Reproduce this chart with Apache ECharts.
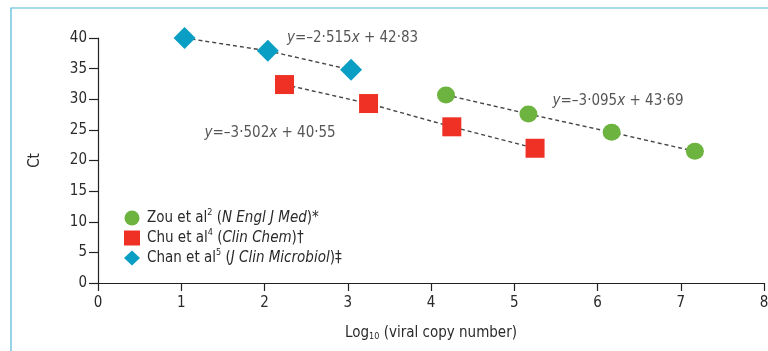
<!DOCTYPE html>
<html><head><meta charset="utf-8">
<script src="https://cdn.jsdelivr.net/npm/echarts@6/dist/echarts.min.js"></script>
<style>html,body{margin:0;padding:0;background:#fff}#c{width:768px;height:351px}</style>
</head><body><div id="c"></div>
<script>
// ---- data ----
var zouX = [4.18, 5.17, 6.17, 7.17];
var zouY = [30.7, 27.6, 24.6, 21.5];
var chuX = [2.24, 3.25, 4.25, 5.25];
var chuY = [32.4, 29.3, 25.5, 22.0];
var chanX = [1.04, 2.04, 3.04];
var chanY = [40.0, 37.9, 34.8];
var seriesNames = ['Zou', 'Chu', 'Chan'];
var legendLabels = [
  'Zou et al{sup|2} ({i|N Engl J Med})*',
  'Chu et al{sup|4} ({i|Clin Chem})†',
  'Chan et al{sup|5} ({i|J Clin Microbiol})‡'
];
var equations = [
  {x: 2.27, y: 40.0, t: '{i|y}=–2·515{i|x} + 42·83'},
  {x: 1.28, y: 24.4, t: '{i|y}=–3·502{i|x} + 40·55'},
  {x: 5.46, y: 29.7, t: '{i|y}=–3·095{i|x} + 43·69'}
];
var xTicks = [0,1,2,3,4,5,6,7,8];
var yTicks = [0,5,10,15,20,25,30,35,40];

function pairs(xs, ys){ return xs.map(function(x,i){return [x, ys[i]];}); }

var FONT = '"DejaVu Sans Condensed","Liberation Sans Narrow","Open Sans",sans-serif';
var TXT = '#2a2a2a';
var colors = {Zou:'#6cb33f', Chu:'#ee3124', Chan:'#0a9ec4'};

var chart = echarts.init(document.getElementById('c'));
var lineStyle = {color:'#444', width:1.4, type:[4,3]};
var richEq = {i:{fontStyle:'italic', fontSize:15, fontFamily:FONT, color:TXT}};

chart.setOption({
  animation:false,
  textStyle:{fontFamily:FONT, color:TXT},
  graphic:[{type:'rect', shape:{x:11, y:8, width:800, height:400}, style:{fill:'none', stroke:'#4fb6d8', lineWidth:1.2}, silent:true}],
  grid:{left:98, right:4, top:38, bottom:68, containLabel:false, outerBoundsMode:'none'},
  xAxis:{type:'value', min:0, max:8, interval:1,
    name:'Log{sub|10} (viral copy number)', nameLocation:'middle', nameGap:43,
    nameTextStyle:{fontSize:15, color:TXT, fontFamily:FONT, rich:{sub:{fontSize:9, verticalAlign:'bottom', padding:[6,0,0,0], fontFamily:FONT, color:TXT}}},
    axisLine:{lineStyle:{color:'#222', width:1.2}},
    axisTick:{length:8, lineStyle:{color:'#222', width:1.2}},
    axisLabel:{fontSize:15, color:TXT, margin:13, fontFamily:FONT, formatter:function(v){return xTicks.indexOf(v)>=0?String(v):'';}},
    splitLine:{show:false}},
  yAxis:{type:'value', min:0, max:40, interval:5,
    name:'Ct', nameLocation:'middle', nameGap:55, nameRotate:90,
    nameTextStyle:{fontSize:15, color:TXT, fontFamily:FONT},
    axisLine:{show:true, lineStyle:{color:'#222', width:1.2}},
    axisTick:{show:true, length:9, lineStyle:{color:'#222', width:1.2}},
    axisLabel:{fontSize:15, color:TXT, margin:11, fontFamily:FONT, formatter:function(v){return yTicks.indexOf(v)>=0?String(v):'';}},
    splitLine:{show:false}},
  legend:{orient:'vertical', left:119, top:203, itemWidth:16, itemHeight:15, itemGap:0,
    data:[{name:'Zou', icon:'circle'},{name:'Chu', icon:'rect', itemStyle:{}},{name:'Chan', icon:'diamond'}],
    formatter:function(n){return legendLabels[seriesNames.indexOf(n)];},
    textStyle:{fontSize:15, color:TXT, fontFamily:FONT, lineHeight:20, padding:[0,0,0,2],
      rich:{sup:{fontSize:9, verticalAlign:'top', padding:[0,0,8,0], color:TXT, fontFamily:FONT, lineHeight:20},
            i:{fontStyle:'italic', fontSize:15, color:TXT, fontFamily:FONT, lineHeight:20}}}},
  series:[
    {name:'Zou', type:'line', data:pairs(zouX,zouY), symbol:'circle', symbolSize:[18,17],
      itemStyle:{color:colors.Zou}, lineStyle:lineStyle, z:3},
    {name:'Chu', type:'line', data:pairs(chuX,chuY), symbol:'rect', symbolSize:19,
      itemStyle:{color:colors.Chu}, lineStyle:lineStyle, z:3},
    {name:'Chan', type:'line', data:pairs(chanX,chanY), symbol:'diamond', symbolSize:22,
      itemStyle:{color:colors.Chan}, lineStyle:lineStyle, z:3},
    {name:'eq', type:'scatter', symbolSize:0, silent:true,
      data:equations.map(function(e){return {value:[e.x,e.y], label:{formatter:e.t}};}),
      label:{show:true, position:'right', distance:0, fontSize:15, color:TXT, fontFamily:FONT, rich:richEq}}
  ]
});
</script></body></html>
